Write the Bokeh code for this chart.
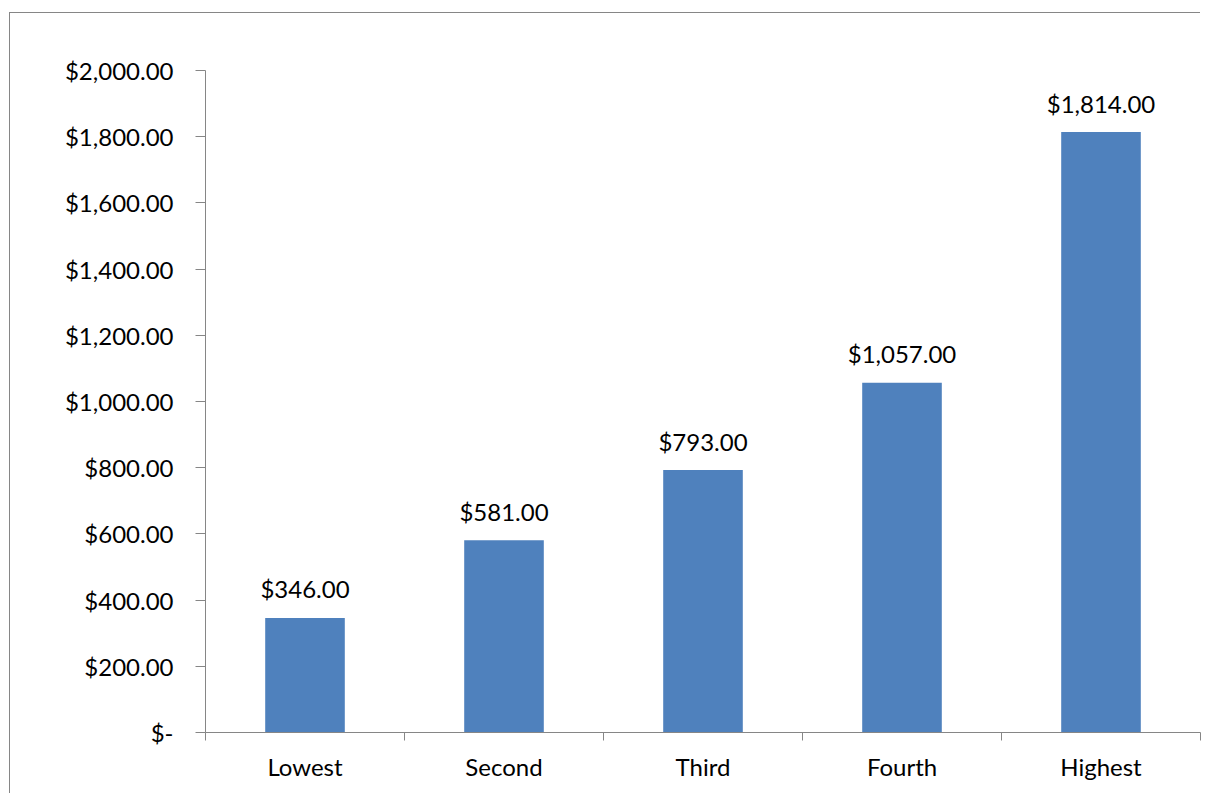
from bokeh.plotting import figure
from bokeh.models import Range1d, FixedTicker, NumeralTickFormatter, ColumnDataSource
from bokeh.core.properties import value
from bokeh.embed import file_html
from bokeh.resources import INLINE

categories = ["Lowest", "Second", "Third", "Fourth", "Highest"]
amounts = [346, 581, 793, 1057, 1814]
y_ticks = [0, 200, 400, 600, 800, 1000, 1200, 1400, 1600, 1800, 2000]

FONT = "Lato"
FS = "24px"
GRAY = "#868686"
BLUE = "#4F81BD"

xs = [i + 0.5 for i in range(len(categories))]
labels = ["${:,.2f}".format(v) for v in amounts]
src = ColumnDataSource(dict(x=xs, top=amounts, label=labels))

p = figure(width=1191, height=781, output_backend="svg", toolbar_location=None,
           x_range=Range1d(0, len(categories)), y_range=Range1d(0, 2000),
           min_border_left=195, min_border_right=1, min_border_top=57,
           min_border_bottom=62)
p.styles = {"margin-left": "10px", "margin-top": "13px",
            "box-shadow": "-1px -1px 0px 0px " + GRAY}
p.outline_line_color = None
p.grid.visible = False
p.background_fill_color = "white"
p.border_fill_color = "white"

p.vbar(x="x", top="top", bottom=0, width=0.4, source=src,
       fill_color=BLUE, line_color=None)
p.text(x="x", y="top", text="label", source=src, text_align="center",
       text_baseline="alphabetic", y_offset=-29, text_font=value(FONT),
       text_font_size=FS, text_color="black")

# y axis
p.yaxis.ticker = FixedTicker(ticks=y_ticks, minor_ticks=[])
p.yaxis.formatter = NumeralTickFormatter(format="$0,0.00")
p.yaxis.major_label_overrides = {0: "$-"}
p.yaxis.axis_line_color = GRAY
p.yaxis.major_tick_line_color = GRAY
p.yaxis.major_tick_out = 10
p.yaxis.major_tick_in = 0
p.yaxis.major_label_standoff = 22
p.yaxis.major_label_text_font = FONT
p.yaxis.major_label_text_font_size = FS
p.yaxis.major_label_text_color = "black"

# x axis: labels at centers, tick marks at category boundaries
p.xaxis.ticker = FixedTicker(ticks=xs, minor_ticks=list(range(len(categories) + 1)))
p.xaxis.major_label_overrides = {x: c for x, c in zip(xs, categories)}
p.xaxis.axis_line_color = GRAY
p.xaxis.major_tick_line_color = None
p.xaxis.major_tick_out = 0
p.xaxis.major_tick_in = 0
p.xaxis.minor_tick_line_color = GRAY
p.xaxis.minor_tick_out = 8
p.xaxis.minor_tick_in = 0
p.xaxis.major_label_standoff = 11
p.xaxis.major_label_text_font = FONT
p.xaxis.major_label_text_font_size = FS
p.xaxis.major_label_text_color = "black"

open("out.html", "w").write(file_html(p, INLINE))
